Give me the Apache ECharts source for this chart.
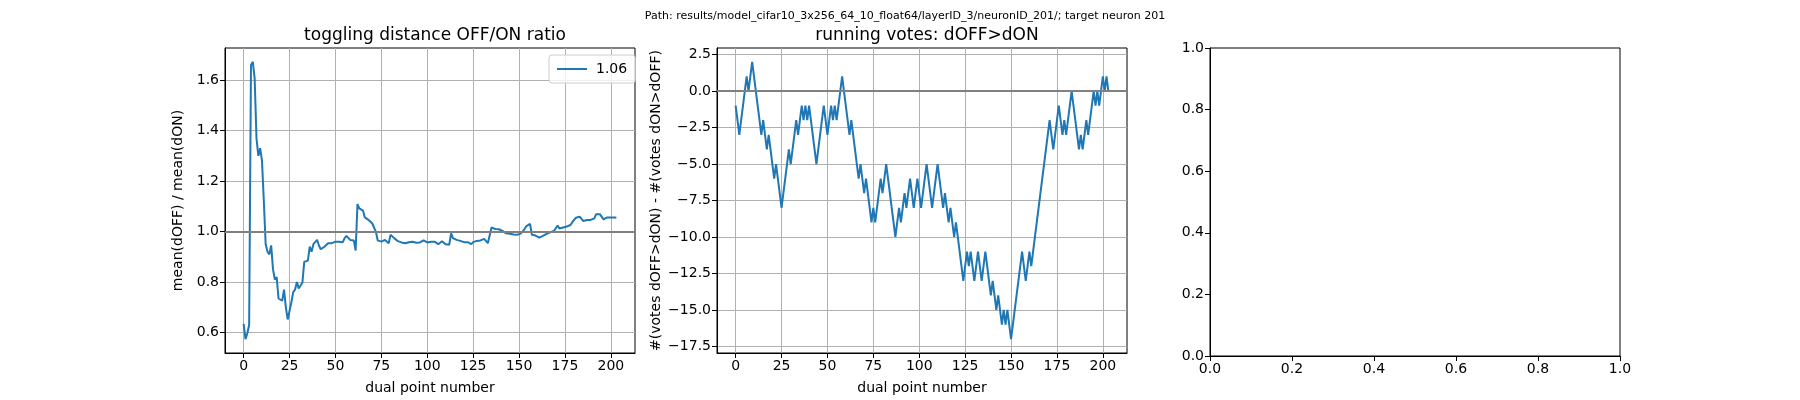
<!DOCTYPE html>
<html>
<head>
<meta charset="utf-8">
<script src="https://cdn.jsdelivr.net/npm/echarts@6/dist/echarts.min.js"></script>
<style>
html, body { margin: 0; padding: 0; background: #fff; }
#chart { width: 1800px; height: 400px; }
</style>
</head>
<body>
<div id="chart"></div>
<script>
// ratio mean(dOFF)/mean(dON), one value per dual point (0..203)
var ratio = [
  0.634, 0.574, 0.597, 0.630, 1.660, 1.672, 1.607, 1.370, 1.300, 1.330,
  1.280, 1.120, 0.950, 0.920, 0.910, 0.945, 0.850, 0.810, 0.820, 0.735,
  0.730, 0.726, 0.770, 0.700, 0.652, 0.652, 0.720, 0.760, 0.770, 0.800,
  0.775, 0.780, 0.797, 0.880, 0.880, 0.885, 0.940, 0.920, 0.950, 0.945,
  0.967, 0.945, 0.930, 0.933, 0.940, 0.944, 0.954, 0.957, 0.954, 0.958,
  0.960, 0.957, 0.960, 0.965, 0.958, 0.974, 0.983, 0.978, 0.967, 0.965,
  0.965, 0.925, 1.109, 1.092, 1.088, 1.083, 1.056, 1.059, 1.046, 1.040,
  1.033, 1.040, 1.000, 0.965, 0.960, 0.960, 0.965, 0.967, 0.970, 0.954,
  0.987, 0.983, 0.974, 0.967, 0.962, 0.960, 0.957, 0.960, 0.954, 0.958,
  0.958, 0.960, 0.960, 0.960, 0.956, 0.957, 0.957, 0.957, 0.965, 0.963,
  0.957, 0.957, 0.960, 0.962, 0.960, 0.954, 0.950, 0.957, 0.962, 0.967,
  0.950, 0.952, 0.948, 0.993, 0.974, 0.967, 0.967, 0.960, 0.963, 0.960,
  0.958, 0.958, 0.958, 0.954, 0.950, 0.958, 0.958, 0.963, 0.960, 0.965,
  0.958, 0.971, 0.967, 0.954, 0.948, 1.016, 1.013, 1.010, 1.010, 1.009,
  1.009, 1.003, 0.997, 0.993, 0.993, 0.991, 0.996, 0.988, 0.986, 0.987,
  0.990, 0.993, 0.997, 1.010, 1.022, 1.026, 1.030, 0.987, 0.984, 0.984,
  0.978, 0.976, 0.980, 0.983, 0.987, 0.991, 0.993, 0.997, 1.000, 1.002,
  1.004, 1.024, 1.012, 1.016, 1.016, 1.016, 1.020, 1.017, 1.026, 1.037,
  1.042, 1.055, 1.062, 1.059, 1.050, 1.042, 1.046, 1.046, 1.048, 1.046,
  1.050, 1.052, 1.069, 1.072, 1.069, 1.066, 1.048, 1.052, 1.056, 1.059,
  1.056, 1.055, 1.056, 1.055
];

// running votes #(dOFF>dON) - #(dON>dOFF)
var votes = [
  -1, -2, -3, -2, -1, 0, 1, 0, 1, 2,
  1, 0, -1, -2, -3, -2, -3, -4, -3, -4,
  -5, -6, -5, -6, -7, -8, -7, -6, -5, -4,
  -5, -4, -3, -2, -3, -2, -1, -2, -1, -2,
  -1, -2, -3, -4, -5, -4, -3, -2, -1, -2,
  -3, -2, -1, -2, -1, -2, -1, 0, 1, 0,
  -1, -2, -3, -2, -3, -4, -5, -6, -5, -6,
  -7, -6, -7, -8, -9, -8, -9, -8, -7, -6,
  -7, -6, -5, -6, -7, -8, -9, -10, -9, -8,
  -9, -8, -7, -8, -7, -6, -7, -8, -7, -6,
  -7, -8, -7, -6, -5, -6, -7, -8, -7, -6,
  -5, -6, -7, -8, -7, -8, -9, -8, -9, -10,
  -9, -10, -11, -12, -13, -12, -11, -12, -11, -12,
  -13, -12, -11, -12, -13, -12, -11, -12, -13, -14,
  -13, -14, -15, -14, -15, -16, -15, -16, -15, -16,
  -17, -16, -15, -14, -13, -12, -11, -12, -13, -12,
  -11, -12, -11, -10, -9, -8, -7, -6, -5, -4,
  -3, -2, -3, -4, -3, -2, -1, -2, -3, -2,
  -3, -2, -1, 0, -1, -2, -3, -4, -3, -4,
  -3, -2, -3, -2, -1, 0, -1, 0, -1, 0,
  1, 0, 1, 0
];

var xTicks = [0, 25, 50, 75, 100, 125, 150, 175, 200];
var ratioTicks = [0.6, 0.8, 1.0, 1.2, 1.4, 1.6];
var voteTicks = [-17.5, -15, -12.5, -10, -7.5, -5, -2.5, 0, 2.5];
var legendLabel = '1.06';
var ratioRef = 1.0;
var voteRef = 0;

var FONT = 'DejaVu Sans';
var BLUE = '#1f77b4';

function pairs(arr) {
    var out = [];
    for (var i = 0; i < arr.length; i++) out.push([i, arr[i]]);
    return out;
}
function minus(s) { return String(s).replace('-', '\u2212'); }

// matplotlib-like autoscale: 5% margin each side
function lim(arr) {
    var lo = Math.min.apply(null, arr), hi = Math.max.apply(null, arr);
    var m = (hi - lo) * 0.05;
    return [lo - m, hi + m];
}

var xl = lim([0, ratio.length - 1]);
var yl1 = lim(ratio);
var yl2 = lim(votes);

function xAxisCfg(idx, ticks, name, mn, mx, showGrid, fmt) {
    return {
        type: 'value', gridIndex: idx, min: mn, max: mx,
        name: name, nameLocation: 'middle', nameGap: 28,
        nameTextStyle: { fontFamily: FONT, fontSize: 14, color: '#000' },
        axisLine: { show: true, onZero: false, lineStyle: { color: '#000', width: 1 } },
        axisTick: { show: true, length: 5, lineStyle: { color: '#000' }, customValues: ticks },
        axisLabel: { fontFamily: FONT, fontSize: 14, color: '#000', margin: 6, customValues: ticks, formatter: fmt, showMinLabel: true, showMaxLabel: true },
        splitLine: { show: showGrid, lineStyle: { color: '#b0b0b0', width: 1 }, customValues: ticks }
    };
}
function yAxisCfg(idx, ticks, name, gap, mn, mx, showGrid, fmt) {
    var c = xAxisCfg(idx, ticks, name, mn, mx, showGrid, fmt);
    c.nameGap = gap;
    c.nameRotate = 90;
    return c;
}

var fmt1 = function (v) { return v.toFixed(1); };
var fmtInt = function (v) { return String(Math.round(v)); };
var fmtVote = function (v) { return minus(v.toFixed(1)); };

var option = {
    animation: false,
    backgroundColor: '#fff',
    textStyle: { fontFamily: FONT },
    title: [
        { text: 'Path: results/model_cifar10_3x256_64_10_float64/layerID_3/neuronID_201/; target neuron 201',
          left: 900, top: 6, textAlign: 'center',
          textStyle: { fontFamily: FONT, fontSize: 11, fontWeight: 'normal', color: '#000' } },
        { text: 'toggling distance OFF/ON ratio', left: 430, top: 22, textAlign: 'center',
          textStyle: { fontFamily: FONT, fontSize: 17, fontWeight: 'normal', color: '#000' } },
        { text: 'running votes: dOFF>dON', left: 922, top: 22, textAlign: 'center',
          textStyle: { fontFamily: FONT, fontSize: 17, fontWeight: 'normal', color: '#000' } }
    ],
    legend: {
        data: [{ name: legendLabel, icon: 'rect' }],
        left: 549, top: 55,
        padding: [7, 8, 7, 8],
        itemWidth: 30, itemHeight: 2, itemGap: 8,
        borderColor: '#cccccc', borderWidth: 1, borderRadius: 3,
        backgroundColor: 'rgba(255,255,255,0.8)',
        textStyle: { fontFamily: FONT, fontSize: 14, color: '#000', padding: [0, 0, 0, 4] }
    },
    grid: [
        { left: 225, top: 48, width: 410, height: 308, show: true, borderColor: '#000', borderWidth: 1 },
        { left: 717, top: 48, width: 410, height: 308, show: true, borderColor: '#000', borderWidth: 1 },
        { left: 1210, top: 48, width: 410, height: 308, show: true, borderColor: '#000', borderWidth: 1 }
    ],
    xAxis: [
        xAxisCfg(0, xTicks, 'dual point number', xl[0], xl[1], true, fmtInt),
        xAxisCfg(1, xTicks, 'dual point number', xl[0], xl[1], true, fmtInt),
        xAxisCfg(2, [0, 0.2, 0.4, 0.6, 0.8, 1.0], '', 0, 1, false, fmt1)
    ],
    yAxis: [
        yAxisCfg(0, ratioTicks, 'mean(dOFF) / mean(dON)', 40, yl1[0], yl1[1], true, fmt1),
        yAxisCfg(1, voteTicks, '#(votes dOFF>dON) - #(votes dON>dOFF)', 54, yl2[0], yl2[1], true, fmtVote),
        yAxisCfg(2, [0, 0.2, 0.4, 0.6, 0.8, 1.0], '', 30, 0, 1, false, fmt1)
    ],
    series: [
        {
            name: legendLabel, type: 'line', xAxisIndex: 0, yAxisIndex: 0,
            data: pairs(ratio), symbol: 'none',
            lineStyle: { color: BLUE, width: 2 }, itemStyle: { color: BLUE },
            markLine: {
                silent: true, symbol: 'none', label: { show: false },
                lineStyle: { color: '#808080', width: 2, type: 'solid' },
                data: [{ yAxis: ratioRef }]
            }
        },
        {
            name: 'votes', type: 'line', xAxisIndex: 1, yAxisIndex: 1,
            data: pairs(votes), symbol: 'none',
            lineStyle: { color: BLUE, width: 2 }, itemStyle: { color: BLUE },
            markLine: {
                silent: true, symbol: 'none', label: { show: false },
                lineStyle: { color: '#808080', width: 2, type: 'solid' },
                data: [{ yAxis: voteRef }]
            }
        }
    ]
};

var myChart = echarts.init(document.getElementById('chart'));
myChart.setOption(option);
</script>
</body>
</html>
